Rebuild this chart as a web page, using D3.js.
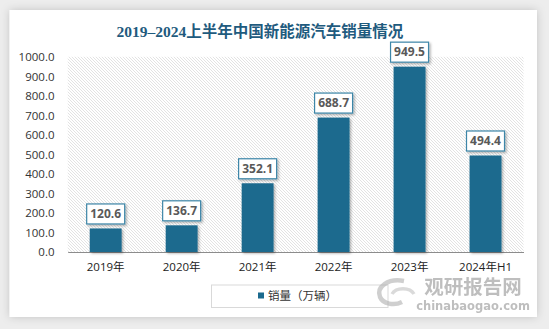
<!DOCTYPE html>
<html>
<head>
<meta charset="utf-8">
<script src="https://cdn.jsdelivr.net/npm/d3@7"></script>
<style>
  html, body { margin: 0; padding: 0; background: #ededed; }
  svg { display: block; }
</style>
</head>
<body>
<svg id="chart" width="549" height="329"></svg>
<script>
// Annual NEV sales in China (10k units)
const categories = ["2019年", "2020年", "2021年", "2022年", "2023年", "2024年H1"];
const sales = [120.6, 136.7, 352.1, 688.7, 949.5, 494.4];
const yTicks = [0, 100, 200, 300, 400, 500, 600, 700, 800, 900, 1000];
const titleText = "2019–2024上半年中国新能源汽车销量情况";
const legendText = "销量（万辆）";

const W = 549, H = 329;
const svg = d3.select("#chart");
const defs = svg.append("defs");

// card shadow
const cardShadow = defs.append("filter").attr("id", "cardShadow")
  .attr("x", "-5%").attr("y", "-5%").attr("width", "110%").attr("height", "110%");
cardShadow.append("feDropShadow").attr("dx", 0).attr("dy", 0)
  .attr("stdDeviation", 4).attr("flood-color", "#000").attr("flood-opacity", 0.18);

// bar / label shadow
const barShadow = defs.append("filter").attr("id", "barShadow")
  .attr("x", "-20%").attr("y", "-20%").attr("width", "150%").attr("height", "150%");
barShadow.append("feDropShadow").attr("dx", 1.5).attr("dy", 1.5)
  .attr("stdDeviation", 1.2).attr("flood-color", "#000").attr("flood-opacity", 0.3);

// diagonal hatch for plot background
const hatch = defs.append("pattern").attr("id", "hatch")
  .attr("patternUnits", "userSpaceOnUse").attr("width", 3).attr("height", 3);
hatch.append("rect").attr("width", 3).attr("height", 3).attr("fill", "#fff");
hatch.append("path").attr("d", "M-1,-1 L4,4 M-1,2 L1,4 M2,-1 L4,1")
  .attr("stroke", "#dcdcdc").attr("stroke-width", 0.8);

// white card
svg.append("rect").attr("x", 9.5).attr("y", 10).attr("width", 527.5).attr("height", 307)
  .attr("fill", "#fff").attr("filter", "url(#cardShadow)");

const plot = { left: 67.7, right: 523.5, top: 56.8, bottom: 252 };

const x = d3.scaleBand().domain(categories).range([plot.left, plot.right])
  .paddingInner(0.58).paddingOuter(0.29);
const y = d3.scaleLinear().domain([0, 1000]).range([plot.bottom, plot.top]);

// hatched plot area
svg.append("rect").attr("x", plot.left).attr("y", plot.top)
  .attr("width", plot.right - plot.left).attr("height", plot.bottom - plot.top)
  .attr("fill", "url(#hatch)");

// title
svg.append("text").attr("x", 260).attr("y", 36.5).attr("text-anchor", "middle")
  .attr("font-family", "'Liberation Serif', 'Noto Sans CJK SC', serif")
  .attr("font-weight", "bold").attr("font-size", 15.5).attr("fill", "#1f5b7e")
  .text(titleText);

// y axis (labels only)
const yAxis = d3.axisLeft(y).tickValues(yTicks).tickFormat(d3.format(".1f")).tickSize(0).tickPadding(0);
const gy = svg.append("g").attr("transform", `translate(54.5,0)`).call(yAxis);
gy.select(".domain").remove();
gy.selectAll("text").attr("font-family", "'Open Sans', 'Noto Sans', sans-serif")
  .attr("font-size", 11.5).attr("fill", "#333");

// x axis
const xAxis = d3.axisBottom(x).tickSize(0).tickPadding(11);
const gx = svg.append("g").attr("transform", `translate(0,${plot.bottom})`).call(xAxis);
gx.select(".domain").attr("stroke", "#8c8c8c").attr("stroke-width", 1);
gx.selectAll("text").attr("font-family", "'Open Sans', 'Noto Sans CJK SC', sans-serif")
  .attr("font-size", 11.5).attr("fill", "#222");

// bars
svg.append("g").selectAll("rect").data(sales).join("rect")
  .attr("x", (d, i) => x(categories[i]))
  .attr("y", d => y(d))
  .attr("width", x.bandwidth())
  .attr("height", d => y(0) - y(d))
  .attr("fill", "#1b6a8e")
  .attr("filter", "url(#barShadow)");

// value labels in boxes
const lg = svg.append("g").selectAll("g").data(sales).join("g")
  .attr("transform", (d, i) => `translate(${x(categories[i]) + x.bandwidth() / 2},${y(d) - 14.5})`);
lg.append("rect").attr("x", -19).attr("y", -10).attr("width", 38).attr("height", 20)
  .attr("fill", "#fff").attr("stroke", "#3d86a8").attr("stroke-width", 1.2)
  .attr("filter", "url(#barShadow)");
lg.append("text").attr("text-anchor", "middle").attr("dy", "0.36em")
  .attr("font-family", "'Open Sans', 'Noto Sans', sans-serif").attr("font-weight", "bold")
  .attr("font-size", 12).attr("fill", "#595959")
  .text(d => d3.format(".1f")(d));

// legend
svg.append("rect").attr("x", 211.5).attr("y", 285).attr("width", 176.5).attr("height", 22.5)
  .attr("fill", "#fff").attr("stroke", "#d9d9d9").attr("stroke-width", 1);
svg.append("rect").attr("x", 258).attr("y", 292.5).attr("width", 6).attr("height", 6)
  .attr("fill", "#1b6a8e");
svg.append("text").attr("x", 268).attr("y", 296).attr("dy", "0.36em")
  .attr("font-family", "'Noto Sans CJK SC', sans-serif").attr("font-size", 11.5).attr("fill", "#333")
  .text(legendText);

// brand mark
const wm = svg.append("g").attr("opacity", 0.55);
wm.append("path").attr("d", "M404,281 C388,278 376,287 380,297 C383,304 394,306 402,302")
  .attr("fill", "none").attr("stroke", "#a9a9a9").attr("stroke-width", 4.5);
wm.append("path").attr("d", "M392,294 C396,287 410,287 414,294")
  .attr("fill", "none").attr("stroke", "#bdbdbd").attr("stroke-width", 3.5);
wm.append("text").attr("x", 473).attr("y", 293.5).attr("text-anchor", "middle")
  .attr("font-family", "'DejaVu Sans', 'Noto Sans CJK SC', sans-serif").attr("font-weight", "bold")
  .attr("font-size", 19.5).attr("fill", "#8a8a8a").text("观研报告网");
wm.append("text").attr("x", 473).attr("y", 309.5).attr("text-anchor", "middle")
  .attr("font-family", "'DejaVu Sans', sans-serif").attr("font-weight", "bold")
  .attr("font-size", 11.5).attr("fill", "#8a8a8a").text("chinabaogao.com");
</script>
</body>
</html>
